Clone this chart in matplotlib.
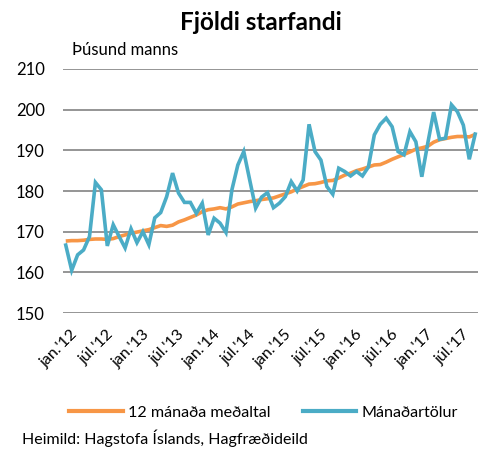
import matplotlib
matplotlib.use("Agg")
import matplotlib.pyplot as plt
import matplotlib.transforms as mtransforms
from matplotlib.lines import Line2D

# Mánaðarleg gögn jan. 2012 - okt. 2017 (þúsund manns), lesið af mynd
manadartolur = [
    166.7, 160.5, 164.3, 165.5, 168.8, 182.1, 180.3, 166.5, 171.7, 168.8, 166.0, 170.7,
    167.3, 170.0, 166.8, 173.4, 174.7, 178.6, 184.4, 179.5, 177.2, 177.2, 174.5, 177.0,
    169.2, 173.3, 172.1, 169.8, 180.3, 186.4, 189.7, 182.7, 175.8, 178.5, 179.6, 175.9,
    177.0, 178.6, 182.3, 180.0, 182.7, 196.4, 189.7, 187.6, 181.1, 179.2, 185.6, 184.8,
    183.7, 184.8, 183.7, 185.9, 193.8, 196.4, 197.9, 195.8, 189.7, 188.9, 194.6, 192.1,
    183.5, 191.7, 199.4, 192.7, 193.0, 201.2, 199.5, 196.2, 187.8, 194.0,
]
medaltal_12 = [
    167.7, 167.8, 167.8, 167.9, 168.1, 168.2, 168.2, 168.1, 168.3, 168.8, 169.2, 169.6,
    169.9, 170.2, 170.5, 171.0, 171.5, 171.3, 171.6, 172.4, 172.9, 173.5, 174.1, 174.9,
    175.4, 175.6, 175.9, 175.6, 176.1, 176.8, 177.1, 177.4, 177.6, 177.9, 178.1, 178.3,
    178.8, 179.3, 179.8, 180.5, 181.1, 181.7, 181.8, 182.1, 182.5, 182.6, 183.2, 183.9,
    184.4, 185.0, 185.4, 185.9, 186.4, 186.5, 187.1, 187.8, 188.4, 189.0, 189.6, 190.3,
    190.6, 191.0, 192.0, 192.6, 192.9, 193.2, 193.4, 193.4, 193.3, 193.9,
]
x_merki = ["jan.'12", "júl.'12", "jan.'13", "júl.'13", "jan.'14", "júl.'14",
           "jan.'15", "júl.'15", "jan.'16", "júl.'16", "jan.'17", "júl.'17"]
y_gildi = [150, 160, 170, 180, 190, 200, 210]

APPELSINA = "#F79646"
BLAR = "#4BACC6"
GRATT = "#8C8C8C"

plt.rcParams["font.family"] = ["Lato", "DejaVu Sans"]

fig = plt.figure(figsize=(4.83, 4.50), dpi=100)
ax = fig.add_axes([0.130, 0.3044, 0.860, 0.5423])

n = len(manadartolur)
x = list(range(n))
ax.plot(x, medaltal_12, color=APPELSINA, linewidth=2.6, solid_capstyle="butt", zorder=3)
ax.plot(x, manadartolur, color=BLAR, linewidth=2.6, solid_joinstyle="miter", zorder=4)

ax.set_xlim(-0.5, n - 0.5)
ax.set_ylim(150, 210)
ax.set_yticks(y_gildi)
ax.set_yticklabels([str(v) for v in y_gildi], fontsize=12)
ax.yaxis.grid(True, color=GRATT, linewidth=1.3)
ax.set_axisbelow(True)

ax.set_xticks(range(0, n, 6)[:len(x_merki)])
ax.set_xticklabels(x_merki, rotation=45, ha="right", rotation_mode="anchor", fontsize=11.5)
ax.tick_params(axis="both", length=0)
ax.tick_params(axis="x", pad=10)
ax.tick_params(axis="y", pad=13)
# lítil hliðrun til hægri eins og í Excel-myndinni
hlidrun = mtransforms.ScaledTranslation(5 / 100, 0, fig.dpi_scale_trans)
for lbl in ax.get_xticklabels():
    lbl.set_transform(lbl.get_transform() + hlidrun)
for s in ax.spines.values():
    s.set_visible(False)

fig.text(0.540, 0.951, "Fjöldi starfandi", ha="center", va="center",
         fontsize=17.5, fontweight="bold")
fig.text(0.149, 0.889, "Þúsund manns", ha="left", va="center", fontsize=12)

handles = [Line2D([0], [0], color=APPELSINA, linewidth=3),
           Line2D([0], [0], color=BLAR, linewidth=3)]
fig.legend(handles, ["12 mánaða meðaltal", "Mánaðartölur"], loc="center",
           bbox_to_anchor=(0.546, 0.083), ncol=2, frameon=False, fontsize=11.6,
           handlelength=3.3, handletextpad=0.35, columnspacing=2.0)
fig.text(0.045, 0.026, "Heimild: Hagstofa Íslands, Hagfræðideild", ha="left",
         va="center", fontsize=11.5)

fig.savefig("out.png", dpi=100)
